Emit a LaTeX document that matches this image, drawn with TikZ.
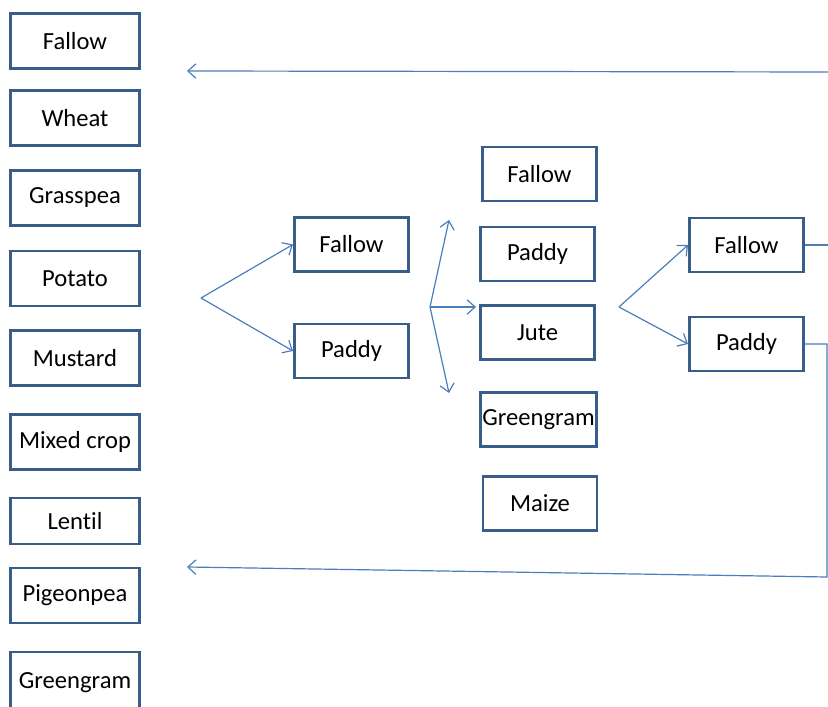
\documentclass[tikz,border=0pt]{standalone}
\usepackage{fontspec}
\setmainfont{Carlito}[Ligatures=NoCommon]
\usepackage{tikz}
\usetikzlibrary{calc,positioning,arrows,arrows.meta}
\definecolor{boxblue}{HTML}{385D8A}
\definecolor{lineblue}{HTML}{4A7EBB}
\tikzstyle{block} = [rectangle, draw=boxblue, line width=2.1pt, fill=white, inner sep=0pt, font=\fontsize{17.5}{20}\selectfont]
\tikzstyle{crop} = [block, minimum width=3.225cm, minimum height=1.375cm]
\tikzstyle{stage} = [block, minimum width=2.85cm, minimum height=1.35cm]
\tikzstyle{line} = [draw=lineblue, line width=0.85pt, -{Straight Barb[length=2mm,width=3.6mm]}]
\tikzstyle{wire} = [draw=lineblue, line width=0.85pt]

\begin{document}
\begin{tikzpicture}[x=0.025cm, y=-0.025cm]
    \useasboundingbox (0,0) rectangle (828,707);
    % Crops on the left
    \node [crop] (fallowL) at (75,41) {Fallow};
    \node [crop] (wheat) at (75,118) {Wheat};
    \node [crop] (grasspea) at (75,198) {Grasspea};
    \node [crop] (potato) at (75,278.5) {Potato};
    \node [crop] (mustard) at (75,358) {Mustard};
    \node [crop] (mixed) at (75,442) {Mixed crop};
    \node [crop, minimum height=1.15cm] (lentil) at (75,521) {Lentil};
    \node [crop] (pigeonpea) at (75,595.5) {Pigeonpea};
    \node [crop, minimum height=1.55cm] (greengramL) at (75,683) {Greengram};
    % First season
    \node [stage] (fallowA) at (351.5,244.5) {Fallow};
    \node [stage] (paddyA) at (351.5,351) {Paddy};
    % Second season
    \node [stage] (fallowB) at (539.5,174) {Fallow};
    \node [stage] (paddyB) at (537.5,254) {Paddy};
    \node [stage] (jute) at (537.5,332.5) {Jute};
    \node [stage, minimum width=2.9cm] (greengramB) at (538.5,419.5) {Greengram};
    \node [stage] (maize) at (540,503.5) {Maize};
    % Third season
    \node [stage] (fallowC) at (746.5,245) {Fallow};
    \node [stage] (paddyC) at (746.5,344) {Paddy};
    % Split points and free ends
    \coordinate (splitA) at (201,298);
    \coordinate (splitB) at (430,307);
    \coordinate (splitC) at (619,307);
    \coordinate (upB) at (449,220);
    \coordinate (rightB) at (476,307);
    \coordinate (downB) at (449,393);
    \coordinate (edgeTop) at (828,72);
    \coordinate (backTop) at (187,71);
    \coordinate (edgeFallow) at (828,245);
    \coordinate (turn) at (827,577);
    \coordinate (backLow) at (187,567);
    % Lines
    \path [line] (splitA) -- (fallowA.west);
    \path [line] (splitA) -- (paddyA.west);
    \path [line] (splitB) -- (upB);
    \path [line] (splitB) -- (rightB);
    \path [line] (splitB) -- (downB);
    \path [line] (splitC) -- (fallowC.west);
    \path [line] (splitC) -- (paddyC.west);
    \path [wire] (fallowC.east) -- (edgeFallow);
    \path [line] (edgeTop) -- (backTop);
    \path [line] (paddyC.east) -| (turn) -- (backLow);
\end{tikzpicture}
\end{document}
